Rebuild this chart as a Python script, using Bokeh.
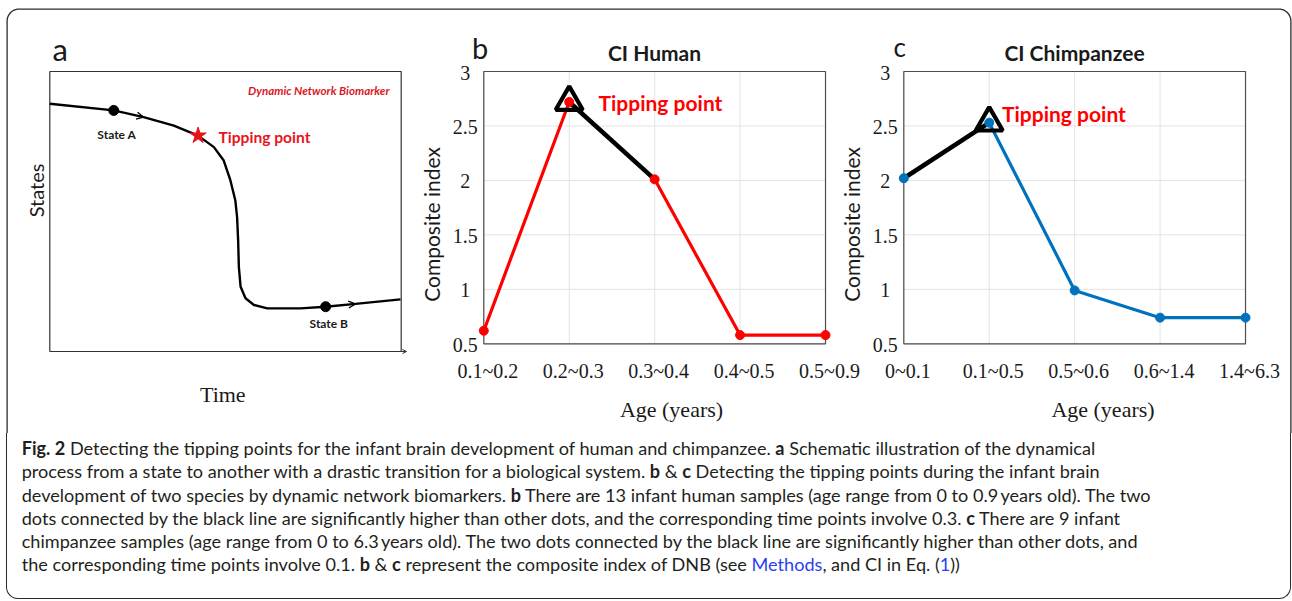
import numpy as np
from bokeh.plotting import figure
from bokeh.models import Range1d, Div, Arrow, OpenHead
from bokeh.layouts import column
from bokeh.core.properties import value
from bokeh.embed import file_html
from bokeh.resources import INLINE

# ---------------- data ----------------
human_ages = ["0.1~0.2", "0.2~0.3", "0.3~0.4", "0.4~0.5", "0.5~0.9"]
human_ci = [0.62, 2.72, 2.01, 0.58, 0.58]
human_tip = [1, 2]          # dots joined by the black line
chimp_ages = ["0~0.1", "0.1~0.5", "0.5~0.6", "0.6~1.4", "1.4~6.3"]
chimp_ci = [2.02, 2.53, 0.99, 0.74, 0.74]
chimp_tip = [0, 1]
y_ticks = [0.5, 1, 1.5, 2, 2.5, 3]
y_tick_labels = ["0.5", "1", "1.5", "2", "2.5", "3"]

# schematic state trajectory (panel a), arbitrary units 0..10
schematic_time = [0.0, 1.82, 2.67, 3.53, 4.22, 4.67, 4.95, 5.14, 5.28, 5.33,
                  5.36, 5.38, 5.43, 5.57, 5.81, 6.19, 7.13, 7.85, 8.70, 9.98]
schematic_state = [8.85, 8.61, 8.37, 8.07, 7.71, 7.30, 6.82, 6.11, 5.39, 4.80,
                   3.96, 3.02, 2.31, 1.90, 1.66, 1.54, 1.54, 1.60, 1.70, 1.86]
state_a_idx, tip_idx, state_b_idx = 1, 4, 17

# ---------------- layout constants (page pixels) ----------------
W, H = 1292, 433
X0, Y0 = 0, 0
p = figure(width=W, height=H, x_range=Range1d(X0, X0 + W), y_range=Range1d(Y0 + H, Y0),
           output_backend="svg", toolbar_location=None, min_border=0,
           x_axis_location=None, y_axis_location=None)
p.grid.visible = False
p.outline_line_color = None
p.background_fill_color = "white"
p.border_fill_color = "white"


def add_range(name, d0, px0, ppu, axis):
    """map data value d0 to page pixel px0, ppu pixels per unit"""
    if axis == "x":
        p.extra_x_ranges[name] = Range1d(d0 + (X0 - px0) / ppu, d0 + (X0 + W - px0) / ppu)
    else:
        p.extra_y_ranges[name] = Range1d(d0 - (Y0 + H - px0) / ppu, d0 + (px0 - Y0) / ppu)


# panel a
add_range("ax", 0, 49.3, 35.14, "x")
add_range("ay", 0, 351.0, 28.0, "y")
# panel b / c
add_range("bx", 0, 483.3, 85.43, "x")
add_range("cx", 0, 903.3, 85.43, "x")
add_range("by", 0.5, 343.3, 108.92, "y")

TXT = "#1a1a1a"


def lab(x, y, s, size, font="Lato", style="normal", color=TXT, align="center",
        baseline="middle", angle=0.0):
    p.text(x=[x], y=[y], text=[s], text_font=value(font), text_font_size=size,
           text_font_style=style, text_color=color, text_align=align,
           text_baseline=baseline, angle=angle)


# ---------------- outer border (top part) ----------------
r = 12
L, R, T, B = 6.6, 1290.4, 8.6, 433
th1 = np.linspace(np.pi, 1.5 * np.pi, 12)
th2 = np.linspace(1.5 * np.pi, 2 * np.pi, 12)
bx_ = [L] + list(L + r + r * np.cos(th1)) + list(R - r + r * np.cos(th2)) + [R]
by_ = [B] + list(T + r + r * np.sin(th1)) + list(T + r + r * np.sin(th2)) + [B]
p.line(bx_, by_, line_color="#2a2a2a", line_width=1.3)

# ---------------- panel a ----------------
p.quad(left=[0], right=[10], bottom=[0], top=[10], fill_color=None,
       line_color="#333333", line_width=1.2, x_range_name="ax", y_range_name="ay")
p.add_layout(Arrow(end=OpenHead(size=4, line_width=1, line_color="#333333"),
                   x_start=9.9, y_start=0, x_end=10.15, y_end=0,
                   line_color="#333333", line_width=1,
                   x_range_name="ax", y_range_name="ay"))
p.line(schematic_time, schematic_state, line_color="black", line_width=2.4,
       x_range_name="ax", y_range_name="ay")
for i in (2, 18):
    slope = (schematic_state[i] - schematic_state[i - 1]) / (schematic_time[i] - schematic_time[i - 1])
    p.add_layout(Arrow(end=OpenHead(size=7, line_width=1.3, line_color="black"),
                       x_start=schematic_time[i] - 0.2,
                       y_start=schematic_state[i] - slope * 0.2,
                       x_end=schematic_time[i], y_end=schematic_state[i],
                       line_color="black", line_width=0.1,
                       x_range_name="ax", y_range_name="ay"))
p.scatter([schematic_time[state_a_idx], schematic_time[state_b_idx]],
          [schematic_state[state_a_idx], schematic_state[state_b_idx]],
          size=10, color="black", x_range_name="ax", y_range_name="ay")
p.scatter([schematic_time[tip_idx]], [schematic_state[tip_idx]], marker="star",
          size=17, color="#e8141b", x_range_name="ax", y_range_name="ay")

lab(52, 48, "a", "31px", baseline="alphabetic", align="left")
lab(318.3, 89.5, "Dynamic Network Biomarker", "11.6px", style="bold italic", color="#d7191f")
lab(116.3, 133.5, "State A", "12px", style="bold")
lab(328.3, 323, "State B", "12px", style="bold")
lab(218, 136.5, "Tipping point", "15.6px", style="bold", color="#e8141b", align="left")
lab(35, 190, "States", "20px", angle=np.pi / 2)
lab(222.3, 393.5, "Time", "22px", font="Liberation Serif")


# ---------------- panels b, c ----------------
def panel(xr, ages, vals, tip, color, title, title_x, letter, letter_xy, letter_size,
          tip_text_xy, agelab_x, ylab_x):
    n = len(ages)
    xs = list(range(n))
    # grid
    p.segment(x0=xs, y0=[y_ticks[0]] * n, x1=xs, y1=[y_ticks[-1]] * n,
              line_color="#e3e3e3", line_width=1, x_range_name=xr, y_range_name="by")
    p.segment(x0=[0] * len(y_ticks), y0=y_ticks, x1=[n - 1] * len(y_ticks), y1=y_ticks,
              line_color="#e3e3e3", line_width=1, x_range_name=xr, y_range_name="by")
    p.quad(left=[0], right=[n - 1], bottom=[y_ticks[0]], top=[y_ticks[-1]],
           fill_color=None, line_color="#4d4d4d", line_width=1.2,
           x_range_name=xr, y_range_name="by")
    # tick labels
    p.text(x=xs, y=[y_ticks[0]] * n, text=ages, text_font=value("Liberation Serif"),
           text_font_size="20px", text_color=TXT, text_align="center",
           text_baseline="middle", y_offset=27, x_offset=4,
           x_range_name=xr, y_range_name="by")
    p.text(x=[0] * len(y_ticks), y=y_ticks, text=y_tick_labels,
           text_font=value("Liberation Serif"), text_font_size="20px", text_color=TXT,
           text_align="center", text_baseline="middle", x_offset=-18.5, y_offset=1,
           x_range_name=xr, y_range_name="by")
    # series
    p.line(xs, vals, line_color=color, line_width=3.2, x_range_name=xr, y_range_name="by")
    p.line([xs[i] for i in tip], [vals[i] for i in tip], line_color="black",
           line_width=4.5, x_range_name=xr, y_range_name="by")
    p.scatter(xs, vals, size=9, color=color, x_range_name=xr, y_range_name="by")
    peak = max(range(n), key=lambda i: vals[i])
    p.scatter([xs[peak]], [vals[peak]], marker="triangle", size=27, fill_color=None,
              line_color="black", line_width=4.2, x_range_name=xr, y_range_name="by")
    # texts
    lab(title_x, 52, title, "21px", style="bold")
    lab(letter_xy[0], letter_xy[1], letter, letter_size, baseline="alphabetic", align="left")
    lab(tip_text_xy[0], tip_text_xy[1], "Tipping point", "21px", style="bold",
        color="#ff0000", align="left")
    lab(agelab_x, 409, "Age (years)", "22px", font="Liberation Serif")
    lab(ylab_x, 224, "Composite index", "21px", angle=np.pi / 2)


panel("bx", human_ages, human_ci, human_tip, "#ff0000", "CI Human", 654,
      "b", (471.5, 47.3), "29px", (598, 101.5), 671, 430.5)
panel("cx", chimp_ages, chimp_ci, chimp_tip, "#0072bd", "CI Chimpanzee", 1074,
      "c", (893, 46.7), "26px", (1001.5, 112.5), 1102.5, 850.5)

# ---------------- caption ----------------
B_ = lambda s: "<b>" + s + "</b>"
BL = lambda s: '<span style="color:#2a3ff0">' + s + "</span>"
lines = [
    B_("Fig. 2") + " Detecting the tipping points for the infant brain development of human and chimpanzee. " + B_("a") + " Schematic illustration of the dynamical",
    "process from a state to another with a drastic transition for a biological system. " + B_("b") + " &amp; " + B_("c") + " Detecting the tipping points during the infant brain",
    "development of two species by dynamic network biomarkers. " + B_("b") + " There are 13 infant human samples (age range from 0 to 0.9&#8201;years old). The two",
    "dots connected by the black line are significantly higher than other dots, and the corresponding time points involve 0.3. " + B_("c") + " There are 9 infant",
    "chimpanzee samples (age range from 0 to 6.3&#8201;years old). The two dots connected by the black line are significantly higher than other dots, and",
    "the corresponding time points involve 0.1. " + B_("b") + " &amp; " + B_("c") + " represent the composite index of DNB (see " + BL("Methods") + ", and CI in Eq. (" + BL("1") + "))",
]
html = ('<div style="box-sizing:border-box;margin-left:6px;width:1285px;height:166px;'
        'border:1.3px solid #2a2a2a;border-top:none;border-radius:0 0 12px 12px;'
        'padding:4px 0 0 14.7px;font-family:Lato;font-size:18.1px;line-height:23.3px;'
        'color:#231f20;white-space:nowrap;overflow:hidden;">' + "<br>".join(lines) + "</div>")
div = Div(text=html, width=1292, height=167, margin=0)

layout = column(p, div, spacing=0)
open("out.html", "w").write(file_html(layout, INLINE))
